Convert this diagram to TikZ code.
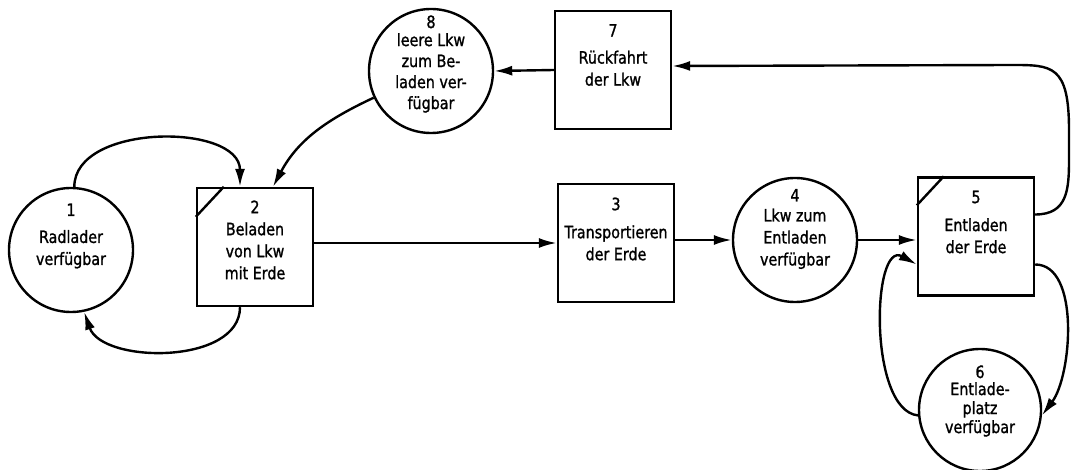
\documentclass[tikz,border=0pt]{standalone}
\usepackage{fontspec}
\setmainfont[FakeStretch=0.84,FakeBold=1.2]{DejaVu Sans}
\usetikzlibrary{arrows.meta,calc}
\tikzset{
  ln/.style={line width=2.4pt},
  arr/.style={ln,-{Latex[length=18pt,width=10pt]}},
  stelle/.style={circle,ln,draw,minimum size=124pt,inner sep=0pt},
  trans/.style={rectangle,ln,draw,minimum width=116pt,minimum height=118pt,inner sep=0pt},
  lbl/.style={align=center,inner sep=0pt,font=\fontsize{17pt}{22pt}\selectfont},
}
\begin{document}
\begin{tikzpicture}[x=1pt,y=-1pt]
\useasboundingbox (0,0) rectangle (1073,470);
% places and transitions
\node[stelle] (c1) at (71,250) {};
\node[trans]  (b2) at (255,247) {};
\node[trans]  (b3) at (616,243) {};
\node[stelle] (c4) at (795,240) {};
\node[trans]  (b5) at (976,236.5) {};
\node[stelle,minimum size=122pt] (c6) at (980,410) {};
\node[trans]  (b7) at (613,70) {};
\node[stelle] (c8) at (431,71) {};
% corner marks
\draw[ln] ([yshift=-30pt]b2.north west) -- ([xshift=28pt]b2.north west);
\draw[ln] ([yshift=-29pt]b5.north west) -- ([xshift=27pt]b5.north west);
% texts
\node[lbl] (t1) at (71,236) {1\\[5pt]Radlader\\verfügbar};
\node[lbl] (t2) at (255,240) {2\\Beladen\\von Lkw\\mit Erde};
\node[lbl] (t3) at (616,229) {3\\[6pt]Transportieren\\der Erde};
\node[lbl] (t4) at (795,229) {4\\[-2pt]Lkw zum\\Entladen\\verfügbar};
\node[lbl] (t5) at (976,222) {5\\[6pt]Entladen\\der Erde};
\node[lbl,font=\fontsize{17pt}{19pt}\selectfont] (t6) at (980,401) {6\\[-2pt]Entlade-\\platz\\verfügbar};
\node[lbl] (t7) at (613,55) {7\\[5pt]Rückfahrt\\der Lkw};
\node[lbl,font=\fontsize{17pt}{21pt}\selectfont] (t8) at (431,64) {8\\[-3pt]leere Lkw\\zum Be-\\laden ver-\\fügbar};
% helper coordinates for loops
\coordinate (k1) at (1069,160);
\coordinate (k2) at (1069,130);
\coordinate (k3) at (1012,65);
% connectors
\draw[arr] (c1.87) .. controls +(0,-64) and +(0,-64) .. ([xshift=-15pt]b2.north);
\draw[arr] ([xshift=-15pt]b2.south) .. controls +(0,58) and +(18,52) .. (c1.282);
\draw[arr] (c8.205) to[out=205,in=62] ([xshift=18pt]b2.north);
\draw[arr] (b7.west) -- (c8.east);
\draw[arr] (b3.west -| b2.east) -- (b3.west);
\draw[arr] (c4.west -| b3.east) -- (c4.west);
\draw[arr] (c4.east) -- (c4.east -| b5.west);
\draw[arr] ([yshift=22pt]b5.east) .. controls +(32,0) and +(0,30) .. (k1) -- (k2)
  .. controls +(0,-65) and +(40,0) .. (k3) -- ([yshift=4pt]b7.east);
\draw[arr] ([yshift=-28pt]b5.east) .. controls +(45,0) and +(30,-40) .. (c6.355);
\draw[arr] (c6.185) .. controls +(-50,-5) and +(-45,-25) .. ([yshift=-28pt]b5.west);
\end{tikzpicture}
\end{document}
